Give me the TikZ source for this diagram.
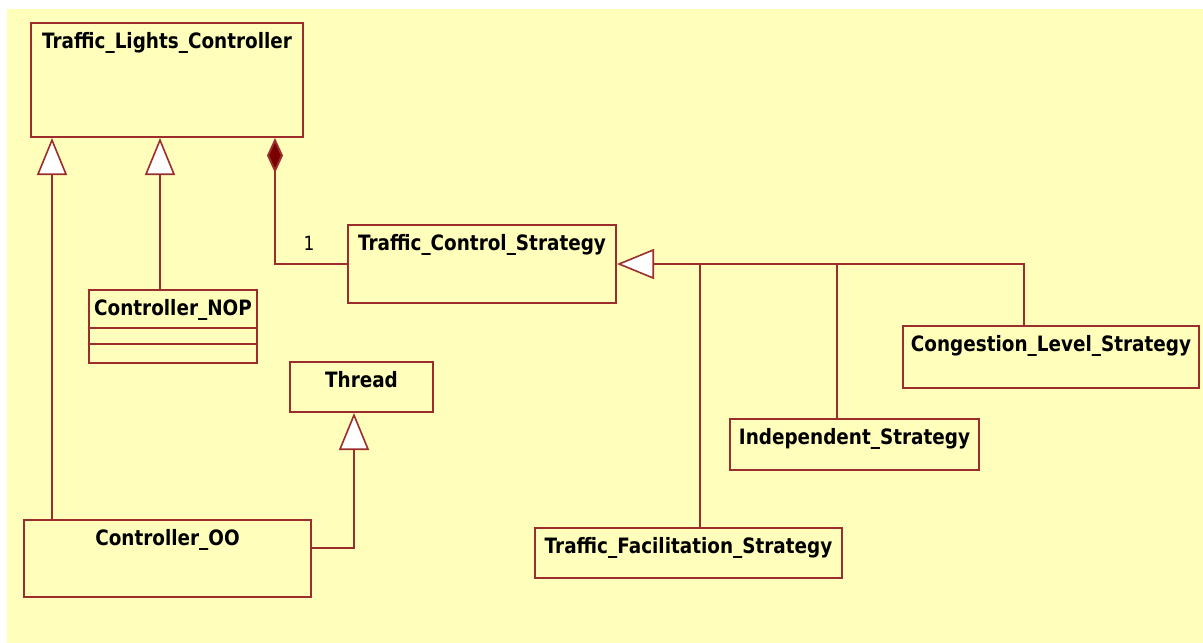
\documentclass[tikz,border=0pt]{standalone}
\usepackage{fontspec}
\usepackage{graphicx}
\setmainfont{DejaVu Sans}
\usetikzlibrary{arrows.meta,calc}
\definecolor{bgyellow}{RGB}{255,255,187}
\definecolor{umlline}{RGB}{155,45,45}
\definecolor{umldiam}{RGB}{120,0,0}
\newcommand{\ttl}[1]{\scalebox{1}[1.15]{#1}}
\tikzset{
  classbox/.style={draw=umlline, line width=2pt, fill=bgyellow, anchor=north west, inner sep=0pt},
  titlelab/.style={anchor=base, yshift=-26pt, inner sep=0pt, font=\fontsize{18.4}{20}\selectfont\bfseries, text=black},
  conn/.style={draw=umlline, line width=2pt},
  gen/.style={conn, -{Triangle[open, length=37pt, width=30pt, fill=white, line width=1.6pt]}},
  comp/.style={conn, {Diamond[length=35pt, width=16pt, fill=umldiam]}-},
}
\begin{document}
\begin{tikzpicture}[x=1pt, y=-1pt]
\useasboundingbox (0,0) rectangle (1203,643);
\fill[white] (0,0) rectangle (1203,643);
\fill[bgyellow] (7,9) rectangle (1203,643);

% classes
\node[classbox, minimum width=272pt, minimum height=114pt,
  label={[titlelab]north:\ttl{Traffic\_Lights\_Controller}}] (tlc) at (30,22) {};
\node[classbox, minimum width=268pt, minimum height=78pt,
  label={[titlelab]north:\ttl{Traffic\_Control\_Strategy}}] (tcs) at (347,224) {};
\node[classbox, minimum width=168pt, minimum height=73pt,
  label={[titlelab]north:\ttl{Controller\_NOP}}] (nop) at (88,289) {};
\node[classbox, minimum width=143pt, minimum height=50pt,
  label={[titlelab]north:\ttl{Thread}}] (thread) at (289,361) {};
\node[classbox, minimum width=287pt, minimum height=77pt,
  label={[titlelab]north:\ttl{Controller\_OO}}] (oo) at (23,519) {};
\node[classbox, minimum width=296pt, minimum height=62pt,
  label={[titlelab]north:\ttl{Congestion\_Level\_Strategy}}] (cls) at (902,325) {};
\node[classbox, minimum width=249pt, minimum height=51pt,
  label={[titlelab]north:\ttl{Independent\_Strategy}}] (ind) at (729,418) {};
\node[classbox, minimum width=307pt, minimum height=50pt,
  label={[titlelab]north:\ttl{Traffic\_Facilitation\_Strategy}}] (tfs) at (534,527) {};

% compartments of Controller_NOP
\draw[conn] ([yshift=-39pt]nop.north west) -- ([yshift=-39pt]nop.north east);
\draw[conn] ([yshift=-55pt]nop.north west) -- ([yshift=-55pt]nop.north east);

% generalizations to Traffic_Lights_Controller
\draw[gen] ([xshift=29pt]oo.north west) -- ([xshift=29pt]oo.north west |- tlc.south);
\draw[gen] ([xshift=72pt]nop.north west) -- ([xshift=72pt]nop.north west |- tlc.south);

% Controller_OO to Thread
\draw[gen] ([yshift=-29pt]oo.north east) -| ([xshift=65pt]thread.south west);

% composition
\draw[comp] ([xshift=245pt]tlc.south west) |- (tcs.west);
\node[font=\fontsize{17}{20}\selectfont, text=black, anchor=base, inner sep=0pt] (mult) at (309,250) {\ttl{1}};

% strategies
\draw[gen] ([xshift=122pt]cls.north west) |- (tcs.east);
\draw[conn] ([xshift=108pt]ind.north west) -- ([xshift=108pt]ind.north west |- tcs.east);
\draw[conn] ([xshift=166pt]tfs.north west) -- ([xshift=166pt]tfs.north west |- tcs.east);
\end{tikzpicture}
\end{document}
